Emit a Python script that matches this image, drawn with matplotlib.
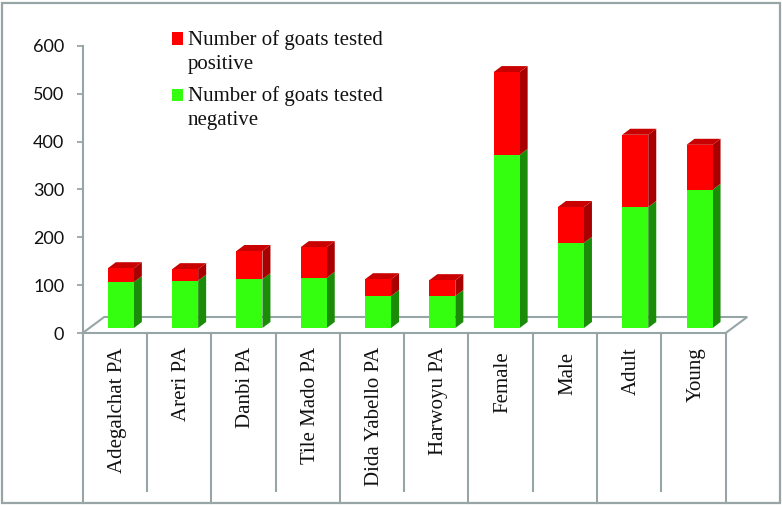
import matplotlib
matplotlib.use("Agg")
import matplotlib.pyplot as plt
import numpy as np
from matplotlib.patches import Polygon, Rectangle
from matplotlib.transforms import Affine2D

categories = ["Adegalchat PA", "Areri PA", "Danbi PA", "Tile Mado PA", "Dida Yabello PA",
              "Harwoyu PA", "Female", "Male", "Adult", "Young"]
negative = [96, 99, 102, 105, 67, 67, 362, 178, 253, 289]
positive = [29, 24, 59, 64, 35, 33, 173, 75, 151, 94]
y_ticks = [0, 100, 200, 300, 400, 500, 600]

W, H = 782, 505
LEFT, RIGHT, TOP, BOTTOM = 82.7, 725.7, 46, 333
GREY = "#98a5a6"
GREEN, GREEN_SIDE = "#33ff0f", "#1a8c08"
RED, RED_SIDE, RED_TOP = "#ff0000", "#a80000", "#c80000"

fig = plt.figure(figsize=(W / 100, H / 100), dpi=100)
ax = fig.add_axes([LEFT / W, 1 - BOTTOM / H, (RIGHT - LEFT) / W, (BOTTOM - TOP) / H])
ax.set_xlim(0, 10)
ax.set_ylim(0, 600)

# pixel sizes expressed in data units
px_x = 10 / (RIGHT - LEFT)
px_y = 600 / (BOTTOM - TOP)

# outer frame
fig.add_artist(Rectangle((1.5 / W, 1 - 503 / H), 778.5 / W, 500 / H, transform=fig.transFigure,
                         fill=False, edgecolor=GREY, linewidth=1.6))

# floor
back_y = 16 * px_y
back_dx = 21.5 * px_x
ax.plot([0, back_dx, 10 + back_dx, 10], [0, back_y, back_y, 0], color=GREY, lw=1.5,
        clip_on=False, zorder=1, solid_joinstyle="miter")

# bars sit a little inside the floor
bar_shift = ax.transData + Affine2D().translate(6, 5)
x = np.arange(len(categories)) + 0.5
width = 26 * px_x
dx = 8 * px_x
dy = 6 * px_y

for xi, neg, pos in zip(x, negative, positive):
    r = xi + width / 2
    l = xi - width / 2
    total = neg + pos
    faces = [
        ([(r, 0), (r + dx, dy), (r + dx, neg + dy), (r, neg)], GREEN_SIDE),
        ([(r, neg), (r + dx, neg + dy), (r + dx, total + dy), (r, total)], RED_SIDE),
        ([(l, total), (l + dx, total + dy), (r + dx, total + dy), (r, total)], RED_TOP),
    ]
    for pts, color in faces:
        ax.add_patch(Polygon(pts, closed=True, facecolor=color, edgecolor="none",
                             transform=bar_shift, clip_on=False, zorder=3))

h_neg = ax.bar(x, negative, width, color=GREEN, transform=bar_shift, clip_on=False, zorder=4,
               label="Number of goats tested\nnegative")
h_pos = ax.bar(x, positive, width, bottom=negative, color=RED, transform=bar_shift, clip_on=False,
               zorder=4, label="Number of goats tested\npositive")

ax.set_xlim(0, 10)
ax.set_ylim(0, 600)

# axes
for side in ["top", "right"]:
    ax.spines[side].set_visible(False)
for side in ["left", "bottom"]:
    ax.spines[side].set_color(GREY)
    ax.spines[side].set_linewidth(1.5)

ax.set_yticks(y_ticks)
ax.tick_params(axis="y", length=4.3, width=1.3, color=GREY, pad=9, labelsize=13, labelcolor="#111111")
for lab in ax.get_yticklabels():
    lab.set_fontfamily("Lato")

ax.set_xticks(x)
ax.set_xticklabels(categories, rotation=90, family="Liberation Serif", fontsize=15, color="#111111")
ax.tick_params(axis="x", length=0, pad=10)
for i, tick in enumerate(ax.xaxis.get_major_ticks()):
    if categories[i] in ("Female", "Male"):
        tick.set_pad(13.5)
    tick.label1.set_transform(tick.label1.get_transform() + Affine2D().translate(2.5, 0))

# category dividers: multi-level style, alternate lengths
long_end = -(503 - BOTTOM) * px_y
short_end = -(490.5 - BOTTOM) * px_y
for i in range(11):
    ax.plot([i, i], [0, long_end if i % 2 == 0 else short_end], color=GREY, lw=1.5,
            clip_on=False, zorder=1)

leg = ax.legend(handles=[h_pos, h_neg], loc="upper left", bbox_to_anchor=(172 / W, 1 - 30 / H),
                bbox_transform=fig.transFigure, frameon=False, borderpad=0, borderaxespad=0,
                prop={"family": "Liberation Serif", "size": 15}, handlelength=0.55, handleheight=0.55,
                handletextpad=0.2, labelspacing=0.6, labelcolor="#111111")
for t in leg.get_texts():
    t.set_linespacing(1.35)
# swatch goes next to the first line of each label
for handle in leg.legend_handles:
    handle.set_y(handle.get_y() + 9.4)

fig.savefig("out.png", dpi=100)
